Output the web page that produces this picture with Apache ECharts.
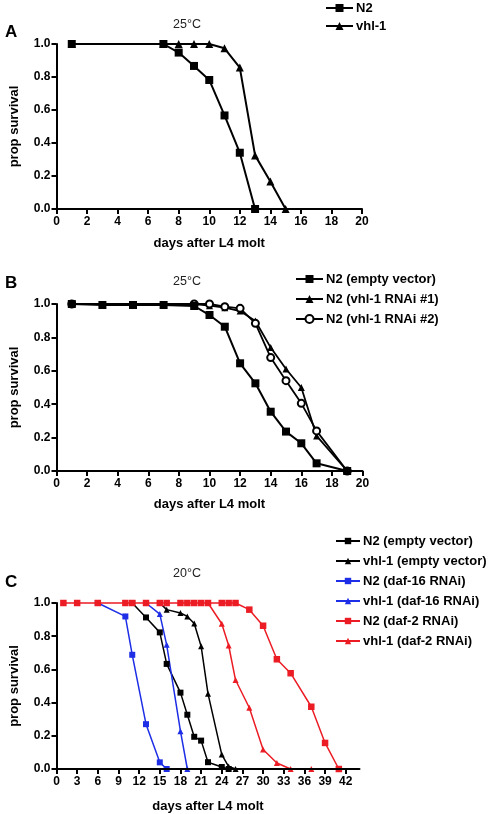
<!DOCTYPE html>
<html>
<head>
<meta charset="utf-8">
<script src="https://cdn.jsdelivr.net/npm/echarts@6/dist/echarts.min.js"></script>
<style>html,body{margin:0;padding:0;background:#fff;}#c{width:492px;height:814px;}</style>
</head>
<body>
<div id="c"></div>
<script>
// ---- Panel A (25°C) ----
const aDaysN2 = [1, 7, 8, 9, 10, 11, 12, 13];
const aN2 = [1.0, 1.0, 0.948, 0.867, 0.782, 0.567, 0.341, 0.0];
const aDaysVhl = [1, 7, 8, 9, 10, 11, 12, 13, 14, 15];
const aVhl = [1.0, 1.0, 1.0, 1.0, 1.0, 0.974, 0.857, 0.325, 0.167, 0.0];

// ---- Panel B (25°C) ----
const bDaysN2 = [1, 3, 5, 7, 9, 10, 11, 12, 13, 14, 15, 16, 17, 19];
const bN2 = [1.0, 0.994, 0.994, 0.994, 0.988, 0.934, 0.864, 0.645, 0.525, 0.355, 0.236, 0.166, 0.046, 0.0];
const bDaysR1 = [1, 9, 10, 11, 12, 13, 14, 15, 16, 17, 19];
const bR1 = [1.0, 1.0, 0.99, 0.978, 0.958, 0.898, 0.739, 0.611, 0.5, 0.21, 0.0];
const bDaysR2 = [1, 9, 10, 11, 12, 13, 14, 15, 16, 17, 19];
const bR2 = [1.0, 1.0, 1.0, 0.984, 0.974, 0.884, 0.679, 0.541, 0.405, 0.24, 0.0];

// ---- Panel C (20°C) ----
const cDaysN2EV = [11, 13, 15, 16, 18, 19, 20, 21, 22, 24, 25];
const cN2EV = [1.0, 0.913, 0.823, 0.633, 0.46, 0.327, 0.194, 0.171, 0.041, 0.012, 0.0];
const cDaysVhlEV = [15, 16, 18, 19, 20, 21, 22, 24, 25, 26];
const cVhlEV = [1.0, 0.96, 0.94, 0.919, 0.877, 0.74, 0.454, 0.087, 0.015, 0.0];
const cDaysN2D16 = [6, 10, 11, 13, 15, 16];
const cN2D16 = [1.0, 0.919, 0.688, 0.27, 0.04, 0.0];
const cDaysVhlD16 = [13, 15, 16, 18, 19];
const cVhlD16 = [1.0, 0.933, 0.748, 0.228, 0.0];
const cDaysN2D2 = [1, 3, 6, 10, 11, 13, 15, 16, 18, 19, 20, 21, 22, 24, 25, 26, 28, 30, 32, 34, 37, 39, 41];
const cN2D2 = [1, 1, 1, 1, 1, 1, 1, 1, 1, 1, 1, 1, 1, 1, 1, 1, 0.96, 0.863, 0.661, 0.577, 0.375, 0.157, 0.0];
const cDaysVhlD2 = [22, 24, 25, 26, 28, 30, 32, 34, 37];
const cVhlD2 = [1.0, 0.875, 0.744, 0.536, 0.369, 0.117, 0.036, 0.0, 0.0];

// ---- labels / ticks ----
const panelLetters = ['A', 'B', 'C'];
const panelTemps = ['25°C', '25°C', '20°C'];
const legendA = ['N2', 'vhl-1'];
const legendB = ['N2 (empty vector)', 'N2 (vhl-1 RNAi #1)', 'N2 (vhl-1 RNAi #2)'];
const legendC = ['N2 (empty vector)', 'vhl-1 (empty vector)', 'N2 (daf-16 RNAi)', 'vhl-1 (daf-16 RNAi)', 'N2 (daf-2 RNAi)', 'vhl-1 (daf-2 RNAi)'];
const cTicks = [0, 3, 6, 9, 12, 15, 18, 21, 24, 27, 30, 33, 36, 39, 42];
const xTitle = 'days after L4 molt';
const yTitle = 'prop survival';

const FONT = 'Liberation Sans, Arial, sans-serif';
const BLACK = '#000';
const BLUE = '#1d2ee6';
const RED = '#ec1c24';

const zip = (xs, ys) => xs.map((x, i) => [x, ys[i]]);

function mkSeries(panel, name, days, vals, color, symbol, size, lw, z) {
  return {
    type: 'line', name: panel + '|' + name,
    xAxisIndex: panel === 'A' ? 0 : panel === 'B' ? 1 : 2,
    yAxisIndex: panel === 'A' ? 0 : panel === 'B' ? 1 : 2,
    data: zip(days, vals),
    symbol: symbol, symbolSize: size, showSymbol: true,
    lineStyle: { color: color, width: lw },
    itemStyle: { color: color, borderColor: color, borderWidth: symbol === 'emptyCircle' ? 1.3 : 0 },
    emphasis: { disabled: true },
    animation: false, z: z, clip: false
  };
}

const grids = [
  { left: 53, top: 44, width: 309, height: 165 },
  { left: 53, top: 304, width: 309.5, height: 167 },
  { left: 53, top: 603, width: 306.5, height: 166 }
];

function xAx(i, max, gap, custom) {
  const ax = {
    type: 'value', gridIndex: i, min: 0, max: max, interval: custom ? 3 : 2,
    z: 6,
    name: xTitle, nameLocation: 'middle', nameGap: gap,
    nameTextStyle: { fontFamily: FONT, fontSize: 13, fontWeight: 'bold', color: BLACK },
    axisLine: { show: true, onZero: false, lineStyle: { color: BLACK, width: 2 } },
    axisTick: { show: true, length: 5, lineStyle: { color: BLACK, width: 2 } },
    axisLabel: { fontFamily: FONT, fontSize: 12, fontWeight: 'bold', color: BLACK, margin: 7 },
    splitLine: { show: false }
  };
  if (custom) {
    ax.axisTick.customValues = custom;
    ax.axisLabel.customValues = custom;
  }
  return ax;
}
function yAx(i) {
  return {
    type: 'value', gridIndex: i, min: 0, max: 1, interval: 0.2, z: 6,
    name: yTitle, nameLocation: 'middle', nameGap: 35.5,
    nameTextStyle: { fontFamily: FONT, fontSize: 13, fontWeight: 'bold', color: BLACK },
    axisLine: { show: true, onZero: false, lineStyle: { color: BLACK, width: 2 } },
    axisTick: { show: true, length: 5, lineStyle: { color: BLACK, width: 2 } },
    axisLabel: { fontFamily: FONT, fontSize: 12, fontWeight: 'bold', color: BLACK, margin: 6, formatter: v => v.toFixed(1) },
    splitLine: { show: false }
  };
}

function legend(panel, names, left, top, gap, iw, ih) {
  return {
    orient: 'vertical', left: left, top: top, padding: 0,
    itemGap: gap, itemWidth: iw, itemHeight: ih, selectedMode: false,
    data: names.map(n => panel + '|' + n),
    formatter: n => n.split('|')[1],
    textStyle: { fontFamily: FONT, fontSize: 13, fontWeight: 'bold', color: BLACK, lineHeight: 14, padding: [0, 0, 0, -2] }
  };
}

const series = [
  mkSeries('A', legendA[1], aDaysVhl, aVhl, BLACK, 'triangle', 8, 2, 2),
  mkSeries('A', legendA[0], aDaysN2, aN2, BLACK, 'rect', 8, 2, 3),
  mkSeries('B', legendB[1], bDaysR1, bR1, BLACK, 'triangle', 7, 1.8, 2),
  mkSeries('B', legendB[2], bDaysR2, bR2, BLACK, 'emptyCircle', 7, 1.8, 2),
  mkSeries('B', legendB[0], bDaysN2, bN2, BLACK, 'rect', 8, 2, 3),
  mkSeries('C', legendC[0], cDaysN2EV, cN2EV, BLACK, 'rect', 6, 1.5, 2),
  mkSeries('C', legendC[1], cDaysVhlEV, cVhlEV, BLACK, 'triangle', 6, 1.5, 2),
  mkSeries('C', legendC[2], cDaysN2D16, cN2D16, BLUE, 'rect', 6, 1.5, 2),
  mkSeries('C', legendC[3], cDaysVhlD16, cVhlD16, BLUE, 'triangle', 6, 1.5, 2),
  mkSeries('C', legendC[5], cDaysVhlD2, cVhlD2, RED, 'triangle', 6, 1.5, 2),
  mkSeries('C', legendC[4], cDaysN2D2, cN2D2, RED, 'rect', 6.5, 1.5, 4)
];

const titleY = [25, 282, 574];
const letterY = [33, 284, 583];
const graphics = [];
for (let i = 0; i < 3; i++) {
  graphics.push({ type: 'text', left: 5, top: letterY[i] - 9, silent: true,
    style: { text: panelLetters[i], font: 'bold 17px ' + FONT, fill: BLACK } });
  graphics.push({ type: 'text', x: 187, y: titleY[i], silent: true,
    style: { text: panelTemps[i], font: '12.5px ' + FONT, fill: '#222', align: 'center', verticalAlign: 'middle' } });
}

const chart = echarts.init(document.getElementById('c'), null, { renderer: 'canvas' });
chart.setOption({
  animation: false,
  backgroundColor: '#fff',
  grid: grids,
  xAxis: [xAx(0, 20, 28), xAx(1, 20, 27), xAx(2, 44, 31, cTicks)],
  yAxis: [yAx(0), yAx(1), yAx(2)],
  legend: [
    legend('A', legendA, 325, 1, 4, 27, 10),
    legend('B', legendB, 295, 272, 6, 27, 10),
    legend('C', legendC, 335, 534, 6, 24, 8)
  ],
  graphic: graphics,
  series: series
});
</script>
</body>
</html>
